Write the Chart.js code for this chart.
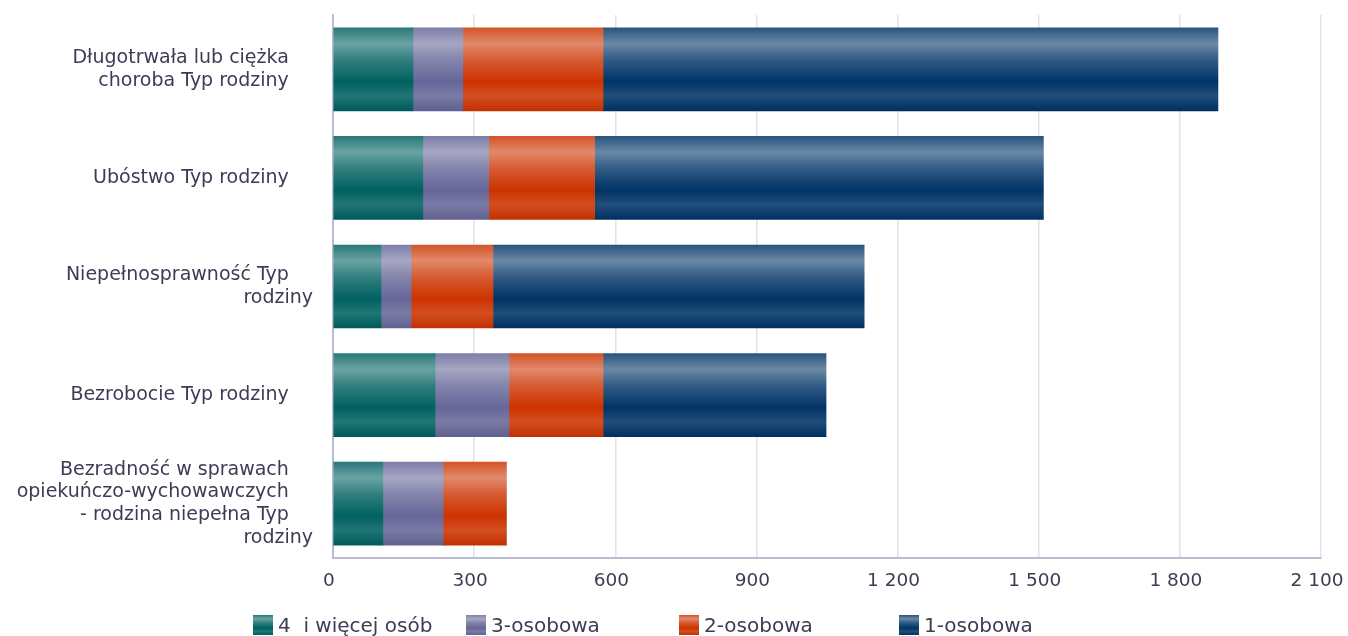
<!DOCTYPE html>
<html>
<head>
<meta charset="utf-8">
<script src="https://cdn.jsdelivr.net/npm/chart.js@4.4.1/dist/chart.umd.min.js"></script>
<style>
  html, body { margin: 0; padding: 0; background: #fff; }
  #wrap { position: relative; width: 1348px; height: 636px; }
  #legend { position: absolute; left: 0; top: 614px; height: 22px; width: 1348px;
            font-family: "DejaVu Sans", sans-serif; font-size: 20px; color: #3c3c55; }
  #legend .item { position: absolute; top: 0; white-space: pre; line-height: 22px; }
  #legend .box { display: inline-block; width: 20px; height: 20px; vertical-align: -3px; margin-right: 5px; }
</style>
</head>
<body>
<div id="wrap">
  <canvas id="myChart" width="1348" height="636"></canvas>
  <div id="legend"></div>
</div>
<script>
var categories = [
  ["Długotrwała lub ciężka", "choroba Typ rodziny"],
  ["Ubóstwo Typ rodziny"],
  ["Niepełnosprawność Typ", "rodziny"],
  ["Bezrobocie Typ rodziny"],
  ["Bezradność w sprawach", "opiekuńczo-wychowawczych", "- rodzina niepełna Typ", "rodziny"],
];
var seriesNames = ["4  i więcej osób", "3-osobowa", "2-osobowa", "1-osobowa"];
var fourPlus = [170, 191, 102, 217, 106];
var threePerson = [106, 140, 64, 157, 128];
var twoPerson = [298, 225, 174, 200, 134];
var onePerson = [1307, 954, 789, 474, 0];
var xTicks = [0, 300, 600, 900, 1200, 1500, 1800, 2100];

var baseColors = [[0, 96, 96], [102, 102, 153], [204, 51, 0], [0, 51, 102]];
var legendLeft = [253, 466, 679, 899];
var BAR = 83;

function mix(c, t) {
  // t > 0 lighten toward white, t < 0 darken
  var r = c.map(function (v) {
    return t >= 0 ? Math.round(v + (255 - v) * t) : Math.round(v * (1 + t));
  });
  return "rgb(" + r.join(",") + ")";
}

function gloss(g, c) {
  g.addColorStop(0, mix(c, 0.16));
  g.addColorStop(0.19, mix(c, 0.42));
  g.addColorStop(0.38, mix(c, 0.2));
  g.addColorStop(0.65, mix(c, 0));
  g.addColorStop(0.82, mix(c, 0.13));
  g.addColorStop(1, mix(c, -0.05));
  return g;
}

function barFill(c) {
  return function (context) {
    var chart = context.chart;
    var y = chart.scales.y;
    if (context.type !== "data" || !chart.chartArea || !y) return mix(c, 0);
    var yc = y.getPixelForValue(context.dataIndex);
    var g = chart.ctx.createLinearGradient(0, yc - BAR / 2, 0, yc + BAR / 2);
    return gloss(g, c);
  };
}

function noPad(scale) {
  scale.paddingTop = 0;
  scale.paddingBottom = 0;
  scale.paddingLeft = 0;
  scale.paddingRight = 0;
}

var values = [fourPlus, threePerson, twoPerson, onePerson];

var ctx = document.getElementById("myChart");
var myChart = new Chart(ctx, {
  type: "bar",
  data: {
    labels: categories,
    datasets: values.map(function (v, i) {
      return {
        label: seriesNames[i],
        data: v,
        backgroundColor: barFill(baseColors[i]),
        borderWidth: 0,
        barThickness: BAR,
      };
    }),
  },
  options: {
    indexAxis: "y",
    responsive: false,
    animation: false,
    layout: { padding: { top: 15, right: 27, left: 0, bottom: 0 } },
    scales: {
      x: {
        stacked: true,
        min: 0,
        max: 2100,
        afterBuildTicks: function (scale) {
          scale.ticks = xTicks.map(function (v) { return { value: v }; });
        },
        afterFit: function (scale) { scale.height = 78; noPad(scale); },
        grid: { color: "#e2e2ea", lineWidth: 1.5, drawTicks: false },
        border: { display: true, color: "#bcbcd0", width: 2 },
        ticks: {
          padding: 12,
          labelOffset: -4,
          color: "#3c3c55",
          font: { family: "DejaVu Sans", size: 18.5 },
          callback: function (v) {
            return String(v).replace(/\B(?=(\d{3})+(?!\d))/g, " ");
          },
        },
      },
      y: {
        stacked: true,
        afterFit: function (scale) { scale.width = 333; noPad(scale); },
        grid: { display: false, drawTicks: false },
        border: { display: true, color: "#bcbcd0", width: 2 },
        ticks: {
          padding: 20,
          color: "#3c3c55",
          font: { family: "DejaVu Sans", size: 19, lineHeight: 1.19 },
          callback: function (v, i) {
            // wrapped lines carry trailing blanks, a lone last word does not
            return categories[i].map(function (line) {
              return line === "rodziny" ? line : line + "    ";
            });
          },
        },
      },
    },
    plugins: {
      legend: { display: false },
      tooltip: { enabled: false },
    },
  },
});

// Legend
var legend = document.getElementById("legend");
seriesNames.forEach(function (name, i) {
  var c = baseColors[i];
  var item = document.createElement("span");
  item.className = "item";
  item.style.left = legendLeft[i] + "px";
  var box = document.createElement("span");
  box.className = "box";
  box.style.background = "linear-gradient(" + [
    mix(c, 0.16) + " 0%", mix(c, 0.42) + " 19%", mix(c, 0.2) + " 38%",
    mix(c, 0) + " 65%", mix(c, 0.13) + " 82%", mix(c, -0.05) + " 100%"].join(",") + ")";
  item.appendChild(box);
  item.appendChild(document.createTextNode(name));
  legend.appendChild(item);
});
</script>
</body>
</html>
